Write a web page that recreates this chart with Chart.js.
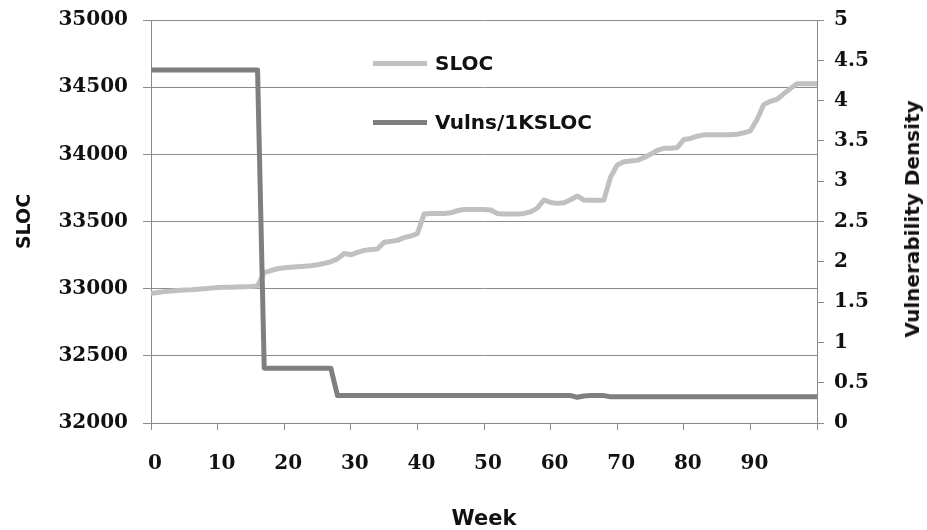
<!DOCTYPE html>
<html lang="en">
<head>
  <meta charset="UTF-8">
  <title>SLOC and vulnerability density by week</title>
  <style>
    body {
      margin: 0;
      background: #fff;
    }
    .wrap {
      position: relative;
      width: 927px;
      height: 530px;
    }
    .legend {
      position: absolute;
      left: 373px;
      font: bold 20px "DejaVu Sans", sans-serif;
      color: #111;
      display: flex;
      align-items: center;
      height: 24px;
    }
    .legend span.swatch {
      display: inline-block;
      width: 54px;
      height: 5px;
      margin-right: 8px;
    }
    .rtitle {
      position: absolute;
      left: 912px;
      top: 219px;
      transform: translate(-50%, -50%) rotate(-90deg);
      font: bold 20px "DejaVu Sans", sans-serif;
      color: #111;
      white-space: nowrap;
    }
  </style>
</head>
<body>
  <div class="wrap">
    <canvas id="chart" width="927" height="530"></canvas>
    <div class="legend" style="top:51px"><span class="swatch" style="background:#c0c0c0"></span>SLOC</div>
    <div class="legend" style="top:110px"><span class="swatch" style="background:#7f7f7f"></span>Vulns/1KSLOC</div>
    <div class="rtitle">Vulnerability Density</div>
  </div>

  <script src="https://cdn.jsdelivr.net/npm/chart.js@4.4.1/dist/chart.umd.min.js"></script>
  <script>
    // semaines 0..100
    const weeks = Array.from({ length: 101 }, (_, i) => i);

    // lignes de code (axe gauche)
    const sloc = [
      32965, 32972, 32978, 32982, 32986, 32990, 32992, 32996, 33000, 33004,
      33008, 33010, 33010, 33012, 33014, 33016, 33020, 33120, 33135, 33148,
      33155, 33160, 33163, 33166, 33170, 33178, 33188, 33200, 33222, 33262,
      33252, 33270, 33285, 33292, 33296, 33345, 33352, 33360, 33380, 33392,
      33410, 33555, 33560, 33560, 33560, 33565, 33580, 33590, 33590, 33590,
      33590, 33585, 33560, 33555, 33555, 33555, 33560, 33572, 33600, 33660,
      33642, 33635, 33640, 33662, 33690, 33660, 33658, 33658, 33660, 33830,
      33920, 33945, 33950, 33955, 33975, 34000, 34030, 34045, 34045, 34050,
      34110, 34118, 34135, 34145, 34145, 34145, 34145, 34145, 34150, 34160,
      34175, 34260, 34370, 34395, 34410, 34450, 34490, 34525, 34525, 34525,
      34525
    ];

    // vulnérabilités par 1000 lignes (axe droit)
    const vulns = [
      4.38, 4.38, 4.38, 4.38, 4.38, 4.38, 4.38, 4.38, 4.38, 4.38,
      4.38, 4.38, 4.38, 4.38, 4.38, 4.38, 4.38, 0.68, 0.68, 0.68,
      0.68, 0.68, 0.68, 0.68, 0.68, 0.68, 0.68, 0.68, 0.34, 0.34,
      0.34, 0.34, 0.34, 0.34, 0.34, 0.34, 0.34, 0.34, 0.34, 0.34,
      0.34, 0.34, 0.34, 0.34, 0.34, 0.34, 0.34, 0.34, 0.34, 0.34,
      0.34, 0.34, 0.34, 0.34, 0.34, 0.34, 0.34, 0.34, 0.34, 0.34,
      0.34, 0.34, 0.34, 0.34, 0.32, 0.335, 0.34, 0.34, 0.34, 0.325,
      0.325, 0.325, 0.325, 0.325, 0.325, 0.325, 0.325, 0.325, 0.325, 0.325,
      0.325, 0.325, 0.325, 0.325, 0.325, 0.325, 0.325, 0.325, 0.325, 0.325,
      0.325, 0.325, 0.325, 0.325, 0.325, 0.325, 0.325, 0.325, 0.325, 0.325,
      0.325
    ];

    const gridGrey = "#8a8a8a";
    const tickFont = { family: "'DejaVu Serif', serif", size: 20, weight: "bold" };
    const titleFont = { family: "'DejaVu Sans', sans-serif", size: 21, weight: "bold" };

    // taille fixe des axes pour caler la zone de tracé
    const fixBox = (w, h) => s => {
      if (w) s.width = w;
      if (h) s.height = h;
      s.paddingTop = 0;
      s.paddingBottom = 0;
      s.paddingLeft = 0;
      s.paddingRight = 0;
    };

    new Chart(document.getElementById("chart"), {
      type: "line",
      data: {
        labels: weeks,
        datasets: [
          {
            label: "Vulns/1KSLOC",
            data: vulns,
            yAxisID: "y2",
            borderColor: "#7f7f7f",
            borderWidth: 5,
            pointRadius: 0,
            tension: 0,
            borderJoinStyle: "round"
          },
          {
            label: "SLOC",
            data: sloc,
            yAxisID: "y",
            borderColor: "#c0c0c0",
            borderWidth: 5,
            pointRadius: 0,
            tension: 0,
            borderJoinStyle: "round"
          }
        ]
      },
      options: {
        responsive: false,
        animation: false,
        devicePixelRatio: 1,
        layout: { padding: { top: 20, right: 0, bottom: 0, left: 0 } },
        plugins: {
          legend: { display: false },
          tooltip: { enabled: false }
        },
        scales: {
          x: {
            type: "category",
            offset: false,
            afterFit: fixBox(0, 107),
            border: { color: gridGrey },
            grid: { drawOnChartArea: false, drawTicks: true, tickLength: 7, color: gridGrey },
            ticks: {
              autoSkip: false,
              maxRotation: 0,
              padding: 22,
              labelOffset: 4,
              color: "#111",
              font: tickFont,
              callback: function (v, i) {
                if (i % 10 !== 0) return null;
                return i === 100 ? "" : String(weeks[i]);
              }
            },
            title: { display: true, text: "Week", color: "#111", font: titleFont, padding: { top: 0, bottom: -2 } }
          },
          y: {
            position: "left",
            min: 32000,
            max: 35000,
            afterFit: fixBox(151, 0),
            border: { color: gridGrey },
            grid: { color: gridGrey, tickLength: 8 },
            ticks: { stepSize: 500, padding: 15, color: "#111", font: tickFont, callback: v => String(v) },
            title: { display: true, text: "SLOC", color: "#111", font: { ...titleFont, size: 19 }, padding: { top: 14, bottom: 0 } }
          },
          y2: {
            position: "right",
            min: 0,
            max: 5,
            afterFit: fixBox(110, 0),
            border: { color: gridGrey },
            grid: { drawOnChartArea: false, tickLength: 7, color: gridGrey },
            ticks: { stepSize: 0.5, padding: 10, color: "#111", font: tickFont, callback: v => String(v) }
          }
        }
      }
    });
  </script>
</body>
</html>
